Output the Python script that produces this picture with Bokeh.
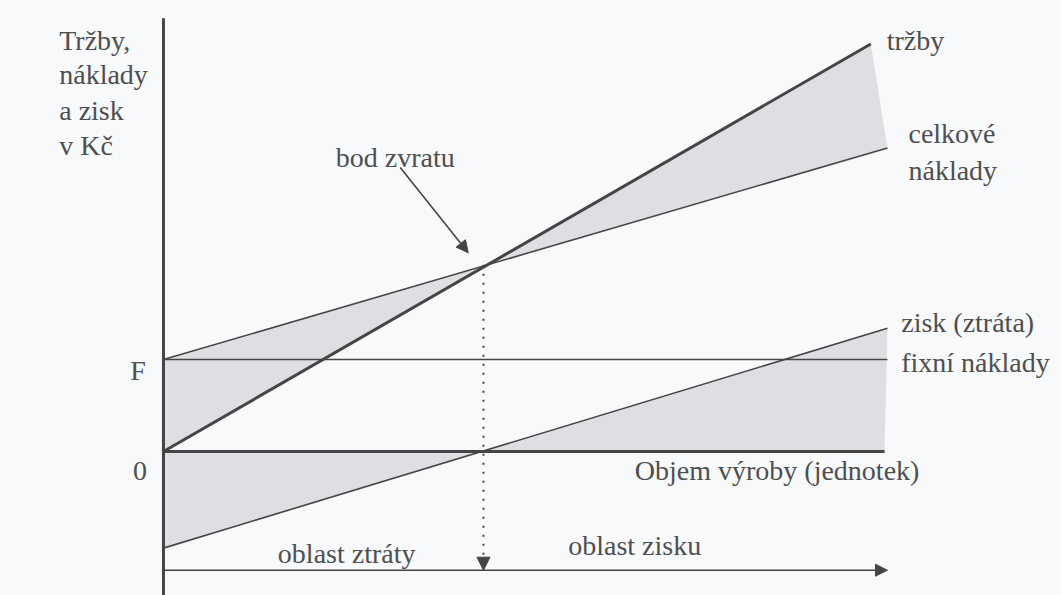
from bokeh.plotting import figure
from bokeh.models import Range1d, Arrow, NormalHead, ColumnDataSource
from bokeh.core.properties import value
from bokeh.embed import file_html
from bokeh.resources import INLINE

# ---- data (volume in units, money in Kč; schematic values)
volume = [0, 100]
sales_volume = [0, 97.7]
sales = [0, 443]
total_costs = [100, 330]
fixed_costs = [100, 100]
profit = [-105, 134]
zero_volume = [0, 99.6]
zero_level = [0, 0]
break_even_volume = 44.2
break_even_value = 203
axis_top = 471
axis_bottom = -170
range_arrow_level = -129

# ---- labels
axis_title_lines = ["Tržby,", "náklady", "a zisk", "v Kč"]
series_labels = ["tržby", "celkové", "náklady", "zisk (ztráta)", "fixní náklady"]
other_labels = ["bod zvratu", "Objem výroby (jednotek)", "oblast zisku", "oblast ztráty", "F", "0"]

BG = "#f7f9fb"
INK = "#454545"
TXT = "#4f4f4f"
SHADE = "#dedfe2"
FONT = value("Liberation Serif")

p = figure(width=1061, height=595, output_backend="svg", toolbar_location=None,
           x_range=Range1d(-22.51, 124.04), y_range=Range1d(-156.5, 490.2),
           x_axis_type=None, y_axis_type=None, min_border=0,
           background_fill_color=BG, border_fill_color=BG)
p.outline_line_color = None

# shaded areas
p.patch(x=sales_volume + [volume[1], volume[0]],
        y=sales + [total_costs[1], total_costs[0]],
        fill_color=SHADE, line_color=None)
p.patch(x=volume + [zero_volume[1], zero_volume[0]],
        y=profit + zero_level[::-1],
        fill_color=SHADE, line_color=None)

# lines
p.line(volume, fixed_costs, line_color=INK, line_width=1.6)
p.line(volume, total_costs, line_color=INK, line_width=1.6)
p.line(volume, profit, line_color=INK, line_width=1.6)
p.line(zero_volume, zero_level, line_color=INK, line_width=3)
p.line(sales_volume, sales, line_color=INK, line_width=3)
p.line([0, 0], [axis_bottom, axis_top], line_color=INK, line_width=3)

# break-even dotted drop line with arrow
p.add_layout(Arrow(x_start=break_even_volume, y_start=break_even_value,
                   x_end=break_even_volume, y_end=range_arrow_level,
                   line_color=INK, line_width=2, line_dash="2 7",
                   end=NormalHead(size=13, fill_color=INK, line_color=INK, line_width=1)))
# bottom range arrow
p.add_layout(Arrow(x_start=0, y_start=range_arrow_level, x_end=volume[1], y_end=range_arrow_level,
                   line_color=INK, line_width=1.6,
                   end=NormalHead(size=12, fill_color=INK, line_color=INK, line_width=1)))
# pointer to break-even
p.add_layout(Arrow(x_start=32.7, y_start=308.7, x_end=break_even_volume - 2.1, y_end=break_even_value + 13,
                   line_color=INK, line_width=1.6,
                   end=NormalHead(size=12, fill_color=INK, line_color=INK, line_width=1)))

# texts
lab_x = [-14.4] * 4 + [99.9, 102.9, 102.9, 101.9, 101.9] + [23.8, 65.1, 55.9, 15.8, -4.6, -4.2]
lab_y = [446.7, 409.8, 370.7, 332.6] + [446.7, 345.7, 305.4, 140.2, 96.7] + [319.6, -20.7, -102.2, -110.9, 88, -20.7]
src = ColumnDataSource(dict(x=lab_x, y=lab_y, t=axis_title_lines + series_labels + other_labels))
p.text(x="x", y="y", text="t", source=src, text_font=FONT, text_font_size="28px",
       text_color=TXT, text_baseline="alphabetic", text_align="left")

open("out.html", "w").write(file_html(p, INLINE))
